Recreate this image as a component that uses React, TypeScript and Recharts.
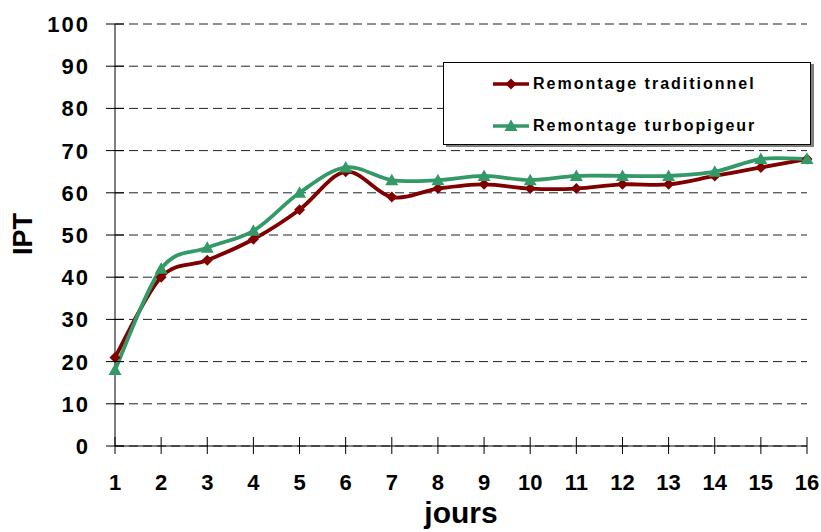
import React from "react"
import { LineChart, Line, XAxis, YAxis, CartesianGrid } from "recharts"

const jours = [1, 2, 3, 4, 5, 6, 7, 8, 9, 10, 11, 12, 13, 14, 15, 16]
const traditionnel = [21, 40, 44, 49, 56, 65, 59, 61, 62, 61, 61, 62, 62, 64, 66, 68]
const turbopigeur = [18, 42, 47, 51, 60, 66, 63, 63, 64, 63, 64, 64, 64, 65, 68, 68]
const yTicks = [0, 10, 20, 30, 40, 50, 60, 70, 80, 90, 100]
const seriesNames = ["Remontage traditionnel", "Remontage turbopigeur"]

const data = jours.map((j, i) => ({ jour: j, trad: traditionnel[i], turbo: turbopigeur[i] }))

const RED = "#800000"
const GREEN = "#339966"
const FONT = "'Liberation Sans', Arial, sans-serif"

// Excel-style smoothing: cubic bezier with control points at 1/6 of neighbour span
function smoothCurve(context: any) {
    let pts: number[][] = []
    return {
        areaStart() {},
        areaEnd() {},
        lineStart() {
            pts = []
        },
        point(x: number, y: number) {
            pts.push([+x, +y])
        },
        lineEnd() {
            if (!pts.length) return
            context.moveTo(pts[0][0], pts[0][1])
            for (let i = 0; i < pts.length - 1; i++) {
                const p0 = pts[i - 1] || pts[i]
                const p1 = pts[i]
                const p2 = pts[i + 1]
                const p3 = pts[i + 2] || pts[i + 1]
                context.bezierCurveTo(
                    p1[0] + (p2[0] - p0[0]) / 6,
                    p1[1] + (p2[1] - p0[1]) / 6,
                    p2[0] - (p3[0] - p1[0]) / 6,
                    p2[1] - (p3[1] - p1[1]) / 6,
                    p2[0],
                    p2[1]
                )
            }
        },
    }
}

const Diamond = (props: any) => {
    const { cx, cy, index } = props
    const r = 5.5
    return (
        <path
            key={`d-${index}`}
            d={`M${cx},${cy - r}L${cx + r},${cy}L${cx},${cy + r}L${cx - r},${cy}Z`}
            fill={RED}
        />
    )
}

const Triangle = (props: any) => {
    const { cx, cy, index } = props
    return (
        <path
            key={`t-${index}`}
            d={`M${cx},${cy - 6.5}L${cx + 6.5},${cy + 5}L${cx - 6.5},${cy + 5}Z`}
            fill={GREEN}
        />
    )
}

const YTick = (props: any) => {
    const { x, y, payload } = props
    return (
        <g>
            <line x1={x - 9} x2={x + 9} y1={y} y2={y} stroke="#000" strokeWidth={1} />
            <text
                x={x - 25}
                y={y + 8}
                textAnchor="end"
                fontFamily={FONT}
                fontWeight="bold"
                fontSize={22}
                letterSpacing={2}
                fill="#000"
            >
                {payload.value}
            </text>
        </g>
    )
}

const XTick = (props: any) => {
    const { x, y, payload } = props
    return (
        <g>
            <line x1={x} x2={x} y1={y - 9} y2={y + 8} stroke="#000" strokeWidth={1} />
            <text
                x={x}
                y={y + 44}
                textAnchor="middle"
                fontFamily={FONT}
                fontWeight="bold"
                fontSize={22}
                fill="#000"
            >
                {payload.value}
            </text>
        </g>
    )
}

const LegendBox = () => (
    <div
        style={{
            position: "absolute",
            left: 443,
            top: 62,
            width: 366,
            height: 81,
            border: "1px solid #000",
            boxShadow: "3px 2px 0 #808080",
            background: "#fff",
            fontFamily: FONT,
            fontWeight: "bold",
            fontSize: 16,
            letterSpacing: 2,
            color: "#000",
        }}
    >
        {seriesNames.map((name, i) => (
            <div
                key={name}
                style={{ position: "absolute", left: 49, top: i === 0 ? 10 : 52, height: 22, display: "flex", alignItems: "center" }}
            >
                <svg width={36} height={16} style={{ marginRight: 4 }}>
                    <line x1={0} x2={36} y1={8} y2={8} stroke={i === 0 ? RED : GREEN} strokeWidth={3.5} />
                    {i === 0 ? (
                        <path d="M18,2.5L23.5,8L18,13.5L12.5,8Z" fill={RED} />
                    ) : (
                        <path d="M18,1.5L24.5,13L11.5,13Z" fill={GREEN} />
                    )}
                </svg>
                <span>{name}</span>
            </div>
        ))}
    </div>
)

export default function App() {
    return (
        <div style={{ position: "absolute", left: 0, top: 0, width: 821, height: 532, background: "#fff" }}>
            <LineChart width={821} height={532} data={data} margin={{ top: 24, right: 14, bottom: 0, left: 0 }}>
                <CartesianGrid vertical={false} stroke="#222" strokeDasharray="9 5" />
                <XAxis
                    dataKey="jour"
                    type="number"
                    domain={[1, 16]}
                    ticks={jours}
                    interval={0}
                    height={86}
                    stroke="#000"
                    tickLine={false}
                    tickSize={0}
                    tickMargin={0}
                    tick={<XTick />}
                    label={{
                        content: () => (
                            <text x={461} y={523} textAnchor="middle" fontFamily={FONT} fontWeight="bold" fontSize={30} fill="#000">
                                jours
                            </text>
                        ),
                    }}
                />
                <YAxis
                    domain={[0, 100]}
                    ticks={yTicks}
                    interval={0}
                    width={115}
                    stroke="#000"
                    tickLine={false}
                    tickSize={0}
                    tickMargin={0}
                    tick={<YTick />}
                    label={{
                        content: () => (
                            <text
                                x={32}
                                y={234}
                                transform="rotate(-90 32 234)"
                                textAnchor="middle"
                                fontFamily={FONT}
                                fontWeight="bold"
                                fontSize={27}
                                fill="#000"
                            >
                                IPT
                            </text>
                        ),
                    }}
                />
                <Line
                    type={smoothCurve as any}
                    dataKey="trad"
                    name={seriesNames[0]}
                    stroke={RED}
                    strokeWidth={3.8}
                    dot={Diamond}
                    activeDot={false}
                    isAnimationActive={false}
                />
                <Line
                    type={smoothCurve as any}
                    dataKey="turbo"
                    name={seriesNames[1]}
                    stroke={GREEN}
                    strokeWidth={3.8}
                    dot={Triangle}
                    activeDot={false}
                    isAnimationActive={false}
                />
            </LineChart>
            <LegendBox />
        </div>
    )
}
